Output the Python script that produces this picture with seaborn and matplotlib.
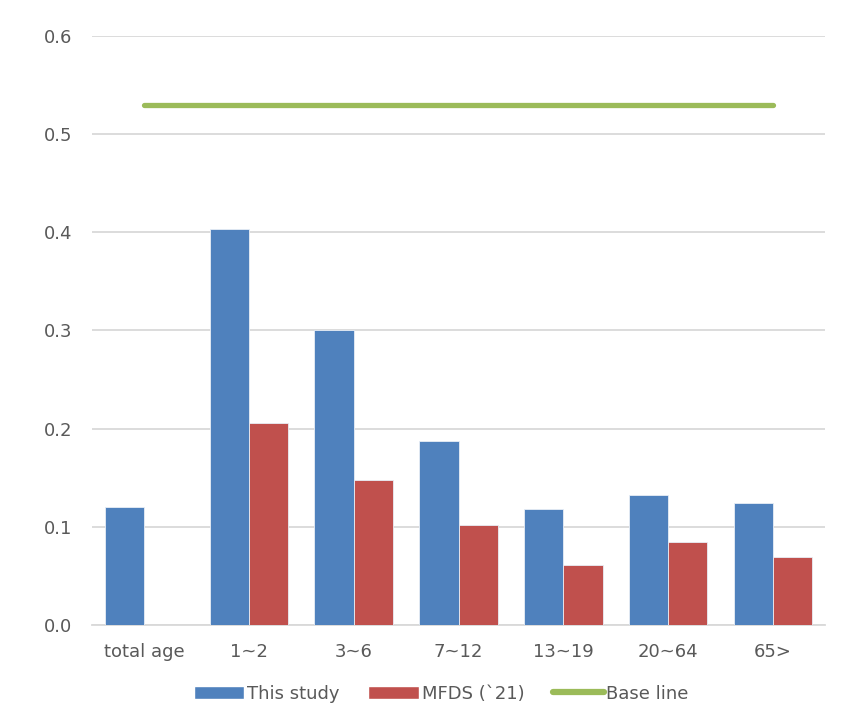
import numpy as np
import pandas as pd
import matplotlib
matplotlib.use("Agg")
import matplotlib.pyplot as plt
import seaborn as sns
from matplotlib.patches import Patch
from matplotlib.lines import Line2D

categories = ["total age", "1~2", "3~6", "7~12", "13~19", "20~64", "65>"]
this_study = [0.120, 0.403, 0.300, 0.187, 0.118, 0.132, 0.124]
mfds_21 = [np.nan, 0.206, 0.148, 0.102, 0.061, 0.085, 0.069]
base_line = [0.53, 0.53, 0.53, 0.53, 0.53, 0.53, 0.53]
series_names = ["This study", "MFDS (`21)", "Base line"]
yticks = [0.0, 0.1, 0.2, 0.3, 0.4, 0.5, 0.6]

colors = {"This study": "#4F81BD", "MFDS (`21)": "#C0504D"}
green = "#9BBB59"
text_color = "#595959"
grid_color = "#D9D9D9"

df = pd.DataFrame({
    "category": categories * 2,
    "series": [series_names[0]] * len(categories) + [series_names[1]] * len(categories),
    "value": this_study + mfds_21,
})

sns.set_theme(style="white")
plt.rcParams["font.family"] = ["DejaVu Sans"]

fig = plt.figure(figsize=(8.5, 7.16), dpi=100)
ax = fig.add_axes([0.108, 0.127, 0.863, 0.823])

sns.barplot(data=df, x="category", y="value", hue="series", order=categories,
            hue_order=series_names[:2], palette=colors, width=0.75,
            saturation=1, errorbar=None, ax=ax, legend=False, zorder=3,
            edgecolor="#E8EEF6", linewidth=0.6)

sns.lineplot(x=np.arange(len(categories)), y=base_line, color=green,
             linewidth=3.8, ax=ax, zorder=4)

ax.set_ylim(0, 0.6)
ax.set_xlim(-0.5, len(categories) - 0.5)
ax.set_yticks(yticks)
ax.set_yticklabels([f"{t:.1f}" for t in yticks])
ax.set_xticks(range(len(categories)))
ax.set_xticklabels(categories)
ax.yaxis.grid(True, color=grid_color, linewidth=1.3, zorder=0)
ax.set_axisbelow(True)
for s in ["top", "right", "left"]:
    ax.spines[s].set_visible(False)
ax.spines["bottom"].set_color(grid_color)
ax.spines["bottom"].set_linewidth(1.3)
ax.set_xlabel("")
ax.set_ylabel("")
ax.tick_params(axis="both", length=0, labelsize=13, colors=text_color)
ax.tick_params(axis="y", pad=14)
ax.tick_params(axis="x", pad=13)

handles = [Patch(facecolor=colors["This study"]),
           Patch(facecolor=colors["MFDS (`21)"]),
           Line2D([0], [0], color=green, linewidth=4.5, solid_capstyle="round")]
fig.legend(handles, series_names, loc="center", bbox_to_anchor=(0.519, 0.031),
           ncol=3, frameon=False, fontsize=13, labelcolor=text_color,
           handlelength=2.8, handleheight=0.7, handletextpad=0.15, columnspacing=1.6)

fig.savefig("out.png", dpi=100)
